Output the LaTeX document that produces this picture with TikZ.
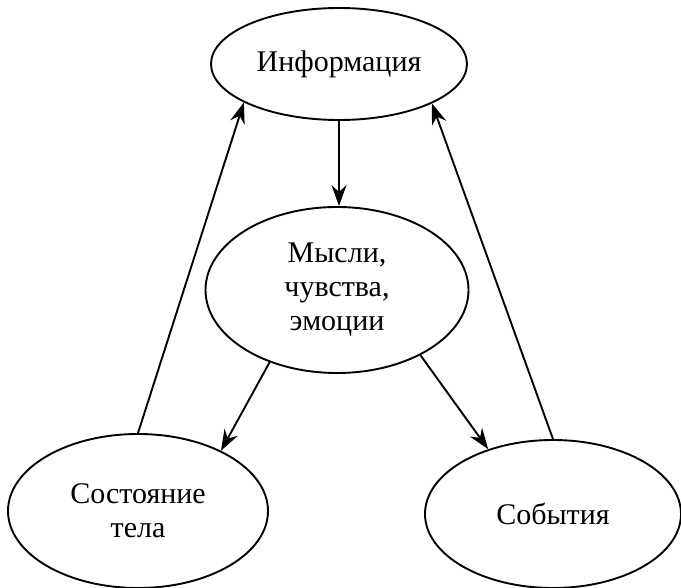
\documentclass[tikz,border=0pt]{standalone}
\usepackage{fontspec}
\setmainfont{Liberation Serif}
\newfontfamily\labelfont{Liberation Serif}
\usetikzlibrary{shapes.geometric,arrows.meta}
\begin{document}
\begin{tikzpicture}[x=1pt,y=-1pt,
  bubble/.style={ellipse,draw,line width=1.9pt,inner sep=0pt,align=center,
    font=\labelfont\fontsize{30}{34}\selectfont},
  flow/.style={line width=1.9pt,-{Stealth[length=21pt,width=15pt,inset=7pt]}}]
\useasboundingbox (0,0) rectangle (681,588);
\node[bubble,minimum width=256pt,minimum height=112pt] (info) at (339,64) {Информация};
\node[bubble,minimum width=263pt,minimum height=166pt] (mind) at (337,290) {Мысли,\\чувства,\\эмоции};
\node[bubble,minimum width=260pt,minimum height=154pt] (body) at (138,511) {Состояние\\тела};
\node[bubble,minimum width=256pt,minimum height=148pt] (events) at (553,514) {События};
\draw[flow] (info.south) -- (info.south |- mind.north);
\draw[flow] (mind.227.5) -- (body.36.6);
\draw[flow] (mind.322.9) -- (events.135.4);
\draw[flow] (body.north) -- (info.202.8);
\draw[flow] (events.north) -- (info.337.2);
\end{tikzpicture}
\end{document}
